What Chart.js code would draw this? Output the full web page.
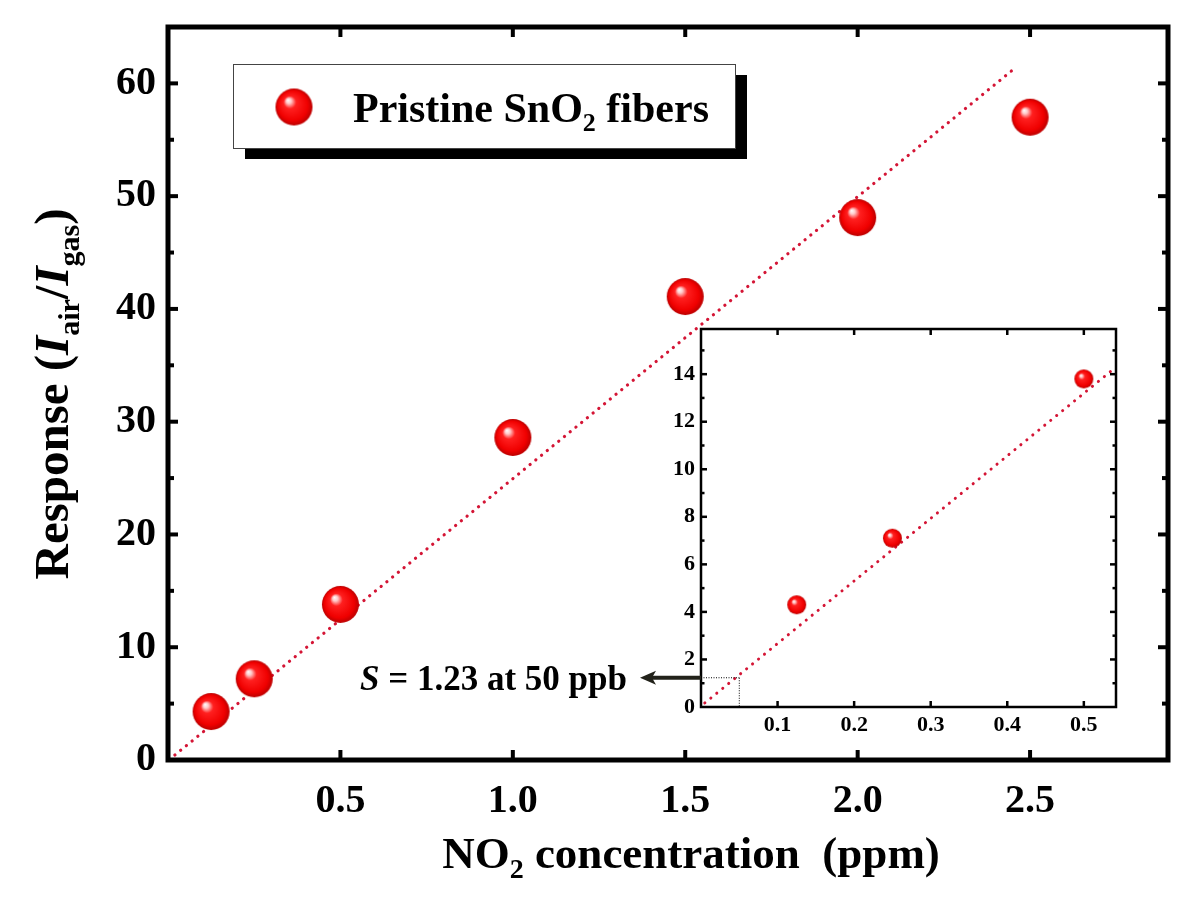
<!DOCTYPE html>
<html>
<head>
<meta charset="utf-8">
<script src="https://cdn.jsdelivr.net/npm/chart.js@4.4.1/dist/chart.umd.min.js"></script>
<style>
  html, body { margin: 0; padding: 0; background: #fff; }
  #wrap { position: relative; width: 1191px; height: 915px; }
  #mainChart { position: absolute; left: 0; top: 0; }
  #insetChart { position: absolute; left: 340px; top: 315px; }
</style>
</head>
<body>
<div id="wrap">
  <canvas id="mainChart" width="1191" height="915"></canvas>
  <canvas id="insetChart" width="790" height="430"></canvas>
</div>
<script>
// NO2 response data
const concentration = [0.125, 0.25, 0.5, 1.0, 1.5, 2.0, 2.5];
const response = [4.3, 7.2, 13.8, 28.6, 41.1, 48.1, 57.0];
const fitX = [0.02, 2.46];
const fitY = [0.44, 61.45];

// inset (low concentration)
const insetConc = [0.125, 0.25, 0.5];
const insetResp = [4.3, 7.1, 13.8];
const insetFitX = [0.005, 0.542];
const insetFitY = [0.17, 14.3];
const detectConc = 0.05;
const detectResp = 1.23;

const mainXTicks = [0.5, 1.0, 1.5, 2.0, 2.5];
const mainYTicks = [0, 10, 20, 30, 40, 50, 60];
const insetXTicks = [0.1, 0.2, 0.3, 0.4, 0.5];
const insetYTicks = [0, 2, 4, 6, 8, 10, 12, 14];

const FONT = '"Liberation Serif", "Times New Roman", serif';
const fitColor = "#d41535";

function makeBall(r) {
  const c = document.createElement("canvas");
  const s = Math.ceil(r * 2 + 2);
  c.width = s;
  c.height = s;
  const g = c.getContext("2d");
  const cx = s / 2, cy = s / 2;
  const grad = g.createRadialGradient(cx - r * 0.33, cy - r * 0.38, 0, cx, cy, r);
  grad.addColorStop(0, "#ffffff");
  grad.addColorStop(0.14, "#ffcaca");
  grad.addColorStop(0.34, "#ff2020");
  grad.addColorStop(0.8, "#f00000");
  grad.addColorStop(1, "#bb0000");
  g.fillStyle = grad;
  g.beginPath();
  g.arc(cx, cy, r, 0, Math.PI * 2);
  g.fill();
  return c;
}

const bigBall = makeBall(18.5);
const smallBall = makeBall(9.5);

// parts: [text, style] with style "" | "i" | "s"
function partFont(style, size) {
  if (style === "i") return "italic bold " + size + "px " + FONT;
  if (style === "s") return "bold " + Math.round(size * 0.62) + "px " + FONT;
  return "bold " + size + "px " + FONT;
}

function drawRich(ctx, parts, x, y, size, align) {
  let total = 0;
  parts.forEach(p => {
    ctx.font = partFont(p[1], size);
    total += ctx.measureText(p[0]).width;
  });
  let cx = x;
  if (align === "center") cx = x - total / 2;
  if (align === "right") cx = x - total;
  ctx.textAlign = "left";
  ctx.textBaseline = "alphabetic";
  parts.forEach(p => {
    ctx.font = partFont(p[1], size);
    const dy = p[1] === "s" ? size * 0.22 : 0;
    ctx.fillText(p[0], cx, y + dy);
    cx += ctx.measureText(p[0]).width;
  });
}

function line(ctx, x1, y1, x2, y2) {
  ctx.beginPath();
  ctx.moveTo(x1, y1);
  ctx.lineTo(x2, y2);
  ctx.stroke();
}

function fixedTicks(values) {
  return scale => {
    scale.ticks = values.map(v => ({ value: v }));
  };
}

function noOverflow(size) {
  return s => {
    if (s.isHorizontal()) s.height = size;
    else s.width = size;
    s.paddingTop = 0;
    s.paddingBottom = 0;
    s.paddingLeft = 0;
    s.paddingRight = 0;
  };
}

const mainDecor = {
  id: "mainDecor",
  beforeDraw(chart) {
    const ctx = chart.ctx;
    ctx.save();
    ctx.fillStyle = "#fff";
    ctx.fillRect(0, 0, chart.width, chart.height);
    ctx.restore();
  },
  afterDraw(chart) {
    const { ctx, chartArea: a, scales: { x, y } } = chart;
    ctx.save();
    ctx.strokeStyle = "#000";
    ctx.lineCap = "butt";
    ctx.lineWidth = 4;
    mainYTicks.forEach(v => {
      const py = y.getPixelForValue(v);
      line(ctx, a.left, py, a.left + 10, py);
      line(ctx, a.right, py, a.right - 10, py);
      const m = v + 5;
      if (m < y.max) {
        const pm = y.getPixelForValue(m);
        line(ctx, a.left, pm, a.left + 6, pm);
        line(ctx, a.right, pm, a.right - 6, pm);
      }
    });
    mainXTicks.forEach(v => {
      const px = x.getPixelForValue(v);
      line(ctx, px, a.bottom, px, a.bottom - 10);
      line(ctx, px, a.top, px, a.top + 10);
    });
    ctx.lineWidth = 5;
    ctx.strokeRect(a.left, a.top, a.right - a.left, a.bottom - a.top);

    // axis titles
    ctx.fillStyle = "#000";
    drawRich(ctx, [["NO", ""], ["2", "s"], [" concentration  (ppm)", ""]], 691, 868, 45, "center");
    ctx.save();
    ctx.translate(68, 394);
    ctx.rotate(-Math.PI / 2);
    drawRich(ctx, [["Response (", ""], ["I", "i"], ["air", "s"], ["/", ""], ["I", "i"], ["gas", "s"], [")", ""]], 0, 0, 49, "center");
    ctx.restore();

    // legend box with shadow
    ctx.fillStyle = "#000";
    ctx.fillRect(245, 75, 502, 84);
    ctx.fillStyle = "#fff";
    ctx.fillRect(233, 64, 502, 84);
    ctx.lineWidth = 1;
    ctx.strokeStyle = "#444";
    ctx.strokeRect(233.5, 64.5, 502, 84);
    ctx.drawImage(bigBall, 294 - bigBall.width / 2, 107 - bigBall.height / 2);
    ctx.fillStyle = "#000";
    drawRich(ctx, [["Pristine SnO", ""], ["2", "s"], [" fibers", ""]], 353, 122, 42, "left");
    ctx.restore();
  }
};

const insetDecor = {
  id: "insetDecor",
  beforeDraw(chart) {
    const { ctx, chartArea: a } = chart;
    ctx.save();
    ctx.fillStyle = "#fff";
    ctx.fillRect(a.left, a.top, a.right - a.left, a.bottom - a.top);
    ctx.restore();
  },
  afterDraw(chart) {
    const { ctx, chartArea: a, scales: { x, y } } = chart;
    ctx.save();
    ctx.strokeStyle = "#000";
    ctx.lineWidth = 2.5;
    for (let v = 1; v < y.max; v++) {
      const py = y.getPixelForValue(v);
      const len = v % 2 === 0 ? 6 : 3.5;
      line(ctx, a.left, py, a.left + len, py);
      line(ctx, a.right, py, a.right - len, py);
    }
    insetXTicks.forEach(v => {
      const px = x.getPixelForValue(v);
      line(ctx, px, a.bottom, px, a.bottom - 6);
      line(ctx, px, a.top, px, a.top + 6);
    });
    ctx.strokeRect(a.left, a.top, a.right - a.left, a.bottom - a.top);

    // detection limit guide lines
    const dx = x.getPixelForValue(detectConc);
    const dy = y.getPixelForValue(detectResp);
    ctx.lineWidth = 1;
    ctx.setLineDash([1, 1.5]);
    line(ctx, a.left, dy, dx, dy);
    line(ctx, dx, dy, dx, a.bottom);
    ctx.setLineDash([]);

    // arrow to annotation
    const tip = a.left - 61;
    ctx.strokeStyle = "#22221a";
    ctx.fillStyle = "#22221a";
    ctx.lineWidth = 4;
    line(ctx, a.left, dy, tip + 10, dy);
    ctx.beginPath();
    ctx.moveTo(tip, dy);
    ctx.lineTo(tip + 16, dy - 7);
    ctx.lineTo(tip + 12, dy);
    ctx.lineTo(tip + 16, dy + 7);
    ctx.closePath();
    ctx.fill();

    ctx.fillStyle = "#000";
    drawRich(ctx, [["S", "i"], [" = 1.23 at 50 ppb", ""]], tip - 13, dy + 12, 35, "right");
    ctx.restore();
  }
};

const baseOptions = {
  responsive: false,
  animation: false,
  events: [],
  plugins: { legend: { display: false }, tooltip: { enabled: false } }
};

new Chart(document.getElementById("mainChart"), {
  type: "scatter",
  data: {
    datasets: [
      {
        label: "Pristine SnO2 fibers",
        data: concentration.map((c, i) => ({ x: c, y: response[i] })),
        pointStyle: bigBall,
        pointRadius: 18
      },
      {
        label: "fit",
        data: fitX.map((c, i) => ({ x: c, y: fitY[i] })),
        showLine: true,
        pointRadius: 0,
        borderColor: fitColor,
        borderWidth: 3.2,
        borderDash: [0.1, 7.3],
        borderCapStyle: "round"
      }
    ]
  },
  options: {
    ...baseOptions,
    layout: { padding: { top: 27, right: 23, left: 0, bottom: 0 } },
    scales: {
      x: {
        type: "linear",
        min: 0,
        max: 2.9,
        afterBuildTicks: fixedTicks(mainXTicks),
        afterFit: noOverflow(155),
        grid: { display: false, drawTicks: false },
        border: { display: false },
        ticks: {
          padding: 18,
          color: "#000",
          font: { family: FONT, size: 40, weight: "bold" },
          callback: v => v.toFixed(1)
        }
      },
      y: {
        type: "linear",
        min: 0,
        max: 65,
        afterBuildTicks: fixedTicks(mainYTicks),
        afterFit: noOverflow(168),
        grid: { display: false, drawTicks: false },
        border: { display: false },
        ticks: {
          padding: 12,
          color: "#000",
          font: { family: FONT, size: 40, weight: "bold" },
          callback: v => String(v)
        }
      }
    }
  },
  plugins: [mainDecor]
});

new Chart(document.getElementById("insetChart"), {
  type: "scatter",
  data: {
    datasets: [
      {
        label: "inset",
        data: insetConc.map((c, i) => ({ x: c, y: insetResp[i] })),
        pointStyle: smallBall,
        pointRadius: 9
      },
      {
        label: "inset fit",
        data: insetFitX.map((c, i) => ({ x: c, y: insetFitY[i] })),
        showLine: true,
        pointRadius: 0,
        borderColor: fitColor,
        borderWidth: 3,
        borderDash: [0.1, 7.6],
        borderCapStyle: "round"
      }
    ]
  },
  options: {
    ...baseOptions,
    layout: { padding: { top: 14, right: 14, left: 0, bottom: 0 } },
    scales: {
      x: {
        type: "linear",
        min: 0,
        max: 0.542,
        afterBuildTicks: fixedTicks(insetXTicks),
        afterFit: noOverflow(38),
        grid: { display: false, drawTicks: false },
        border: { display: false },
        ticks: {
          padding: 5,
          color: "#000",
          font: { family: FONT, size: 22, weight: "bold" },
          callback: v => v.toFixed(1)
        }
      },
      y: {
        type: "linear",
        min: 0,
        max: 15.9,
        afterBuildTicks: fixedTicks(insetYTicks),
        afterFit: noOverflow(361),
        grid: { display: false, drawTicks: false },
        border: { display: false },
        ticks: {
          padding: 6,
          color: "#000",
          font: { family: FONT, size: 22, weight: "bold" },
          callback: v => String(v)
        }
      }
    }
  },
  plugins: [insetDecor]
});
</script>
</body>
</html>
